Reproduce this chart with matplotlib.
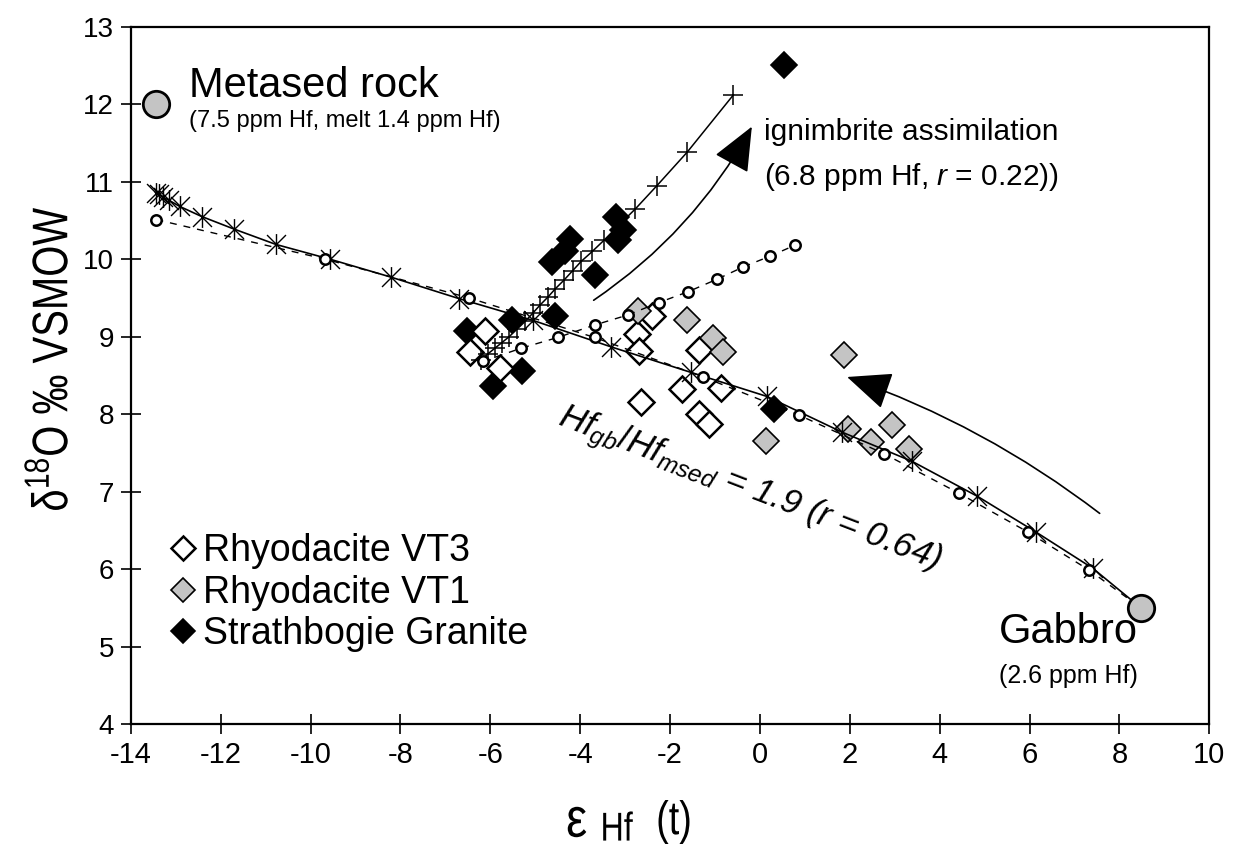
import matplotlib
matplotlib.use('Agg')
import matplotlib.pyplot as plt
import matplotlib.transforms as mtransforms
from matplotlib.path import Path
from matplotlib.textpath import TextPath
from matplotlib.patches import PathPatch
from matplotlib.font_manager import FontProperties

plt.rcParams['font.family'] = ['Liberation Sans', 'DejaVu Sans']
plt.rcParams['mathtext.fontset'] = 'custom'
plt.rcParams['mathtext.rm'] = 'Liberation Sans'
plt.rcParams['mathtext.it'] = 'Liberation Sans:italic'
plt.rcParams['axes.unicode_minus'] = False

# end members
metased_x, metased_y = -13.43, 12.0
gabbro_x, gabbro_y = 8.48, 5.5

# gabbro - metased melt mixing (solid, asterisks)
mix_x = [-13.45, -13.38, -13.28, -13.15, -12.91, -12.42, -11.71, -10.77, -9.57, -8.22,
         -6.69, -5.05, -3.32, -1.54, 0.15, 1.82, 3.39, 4.84, 6.14, 7.41, 8.48]
mix_y = [10.86, 10.84, 10.80, 10.76, 10.68, 10.55, 10.39, 10.19, 10.00, 9.77,
         9.49, 9.21, 8.87, 8.54, 8.23, 7.77, 7.39, 6.94, 6.48, 6.01, 5.50]

# second mixing curve (dashed, open circles)
mixb_x = [-13.43, -9.67, -6.47, -3.68, -1.26, 0.86, 2.76, 4.43, 5.96, 7.32, 8.48]
mixb_y = [10.51, 10.00, 9.50, 8.99, 8.48, 7.99, 7.49, 6.98, 6.48, 5.99, 5.50]

# upward dashed curve (open circles)
up_x = [-6.17, -5.32, -4.50, -3.68, -2.94, -2.25, -1.60, -0.96, -0.37, 0.23, 0.78]
up_y = [8.68, 8.85, 8.99, 9.15, 9.28, 9.44, 9.58, 9.74, 9.90, 10.04, 10.18]

# ignimbrite assimilation curve (solid, plus)
ign_x = [-6.20, -6.05, -5.90, -5.75, -5.58, -5.40, -5.22, -5.06, -4.89, -4.72, -4.55,
         -4.36, -4.17, -3.98, -3.73, -3.46, -3.12, -2.77, -2.29, -1.62, -0.59]
ign_y = [8.70, 8.78, 8.85, 8.92, 9.00, 9.10, 9.20, 9.30, 9.41, 9.51, 9.62,
         9.73, 9.85, 9.97, 10.10, 10.25, 10.45, 10.65, 10.95, 11.38, 12.12]

# samples
vt3_x = [-6.12, -6.45, -5.78, -2.40, -2.73, -2.69, -1.35, -1.73, -0.86, -2.64, -1.35, -1.13]
vt3_y = [9.07, 8.80, 8.59, 9.27, 9.03, 8.81, 8.83, 8.32, 8.34, 8.16, 8.00, 7.87]
vt1_x = [-2.71, -1.63, -1.04, -0.82, 0.13, 1.86, 1.97, 2.48, 2.94, 3.31]
vt1_y = [9.33, 9.22, 8.98, 8.80, 7.66, 8.77, 7.81, 7.64, 7.86, 7.55]
sg_x = [-3.20, -3.05, -3.15, -4.22, -4.33, -4.62, -3.68, -4.57, -5.52, -6.52, -5.30, -5.94, 0.32, 0.54]
sg_y = [10.55, 10.37, 10.25, 10.26, 10.10, 9.96, 9.79, 9.27, 9.21, 9.07, 8.56, 8.37, 8.07, 12.50]

xticks = list(range(-14, 11, 2))
yticks = list(range(4, 14))

star = Path([(-1, -1), (1, 1), (-1, 1), (1, -1), (0, -1.1), (0, 1.1)],
            [Path.MOVETO, Path.LINETO] * 3)

fig = plt.figure(figsize=(12.34, 8.49), dpi=100)
ax = fig.add_axes([0.106, 0.147, 0.874, 0.8216])


def path_text(s, cx, cy, size, squeeze=1.0, angle=0):
    # text drawn as a path, centred on (cx, cy) in pixels from bottom-left
    tp = TextPath((0, 0), s, size=size, prop=FontProperties(family='Liberation Sans'))
    bb = tp.get_extents()
    k = fig.dpi / 72
    tr = (mtransforms.Affine2D()
          .translate(-(bb.x0 + bb.x1) / 2, -(bb.y0 + bb.y1) / 2)
          .scale(k * squeeze, k)
          .rotate_deg(angle)
          .translate(cx, cy))
    fig.add_artist(PathPatch(tp, transform=tr, fc='k', ec='none'))


# sample diamonds
h_sg, = ax.plot(sg_x, sg_y, 'D', ms=13.5, mfc='k', mec='k', mew=1.2, zorder=2, label='Strathbogie Granite')
h_vt3, = ax.plot(vt3_x, vt3_y, 'D', ms=13.5, mfc='white', mec='k', mew=1.8, zorder=2.1, label='Rhyodacite VT3')
h_vt1, = ax.plot(vt1_x, vt1_y, 'D', ms=13.5, mfc='#c4c4c4', mec='k', mew=1.2, zorder=2.2, label='Rhyodacite VT1')

# model curves
ax.plot(mix_x, mix_y, '-', color='k', lw=1.2, marker=star, ms=15, mew=1.0,
        markevery=list(range(len(mix_x) - 1)), zorder=3)
ax.plot(mixb_x, mixb_y, color='k', lw=1.0, ls=(0, (5, 5)), zorder=3)
ax.plot(mixb_x[:-1], mixb_y[:-1], 'o', ms=7.5, mfc='white', mec='k', mew=1.8, zorder=3.1)
ax.plot(up_x, up_y, color='k', lw=1.0, ls=(0, (5, 5)), zorder=3)
ax.plot(up_x, up_y, 'o', ms=7.5, mfc='white', mec='k', mew=1.8, zorder=3.1)
ax.plot(ign_x, ign_y, '-', color='k', lw=1.1, marker='+', ms=14, mew=1.1, zorder=3)

# end members
ax.plot([metased_x], [metased_y], 'o', ms=19, mfc='#c4c4c4', mec='k', mew=2, zorder=4)
ax.plot([gabbro_x], [gabbro_y], 'o', ms=19, mfc='#c4c4c4', mec='k', mew=2, zorder=4)

# arrows
ax.annotate('', xy=(-0.18, 11.71), xytext=(-3.70, 9.47),
            arrowprops=dict(arrowstyle='-|>,head_length=1.4,head_width=0.6', color='k', lw=1.2,
                            mutation_scale=20, shrinkA=0, shrinkB=0,
                            connectionstyle='arc3,rad=0.12'))
ax.annotate('', xy=(1.94, 8.48), xytext=(7.56, 6.72),
            arrowprops=dict(arrowstyle='-|>,head_length=1.4,head_width=0.6', color='k', lw=1.2,
                            mutation_scale=20, shrinkA=0, shrinkB=0,
                            connectionstyle='arc3,rad=0.08'))

# annotations
ax.text(-12.70, 12.09, 'Metased rock', fontsize=30, ha='left', va='baseline')
ax.text(-12.70, 11.71, '(7.5 ppm Hf, melt 1.4 ppm Hf)', fontsize=17, ha='left', va='baseline')
ax.text(0.10, 11.54, 'ignimbrite assimilation', fontsize=21.5, ha='left', va='baseline')
ax.text(0.10, 10.96, r'(6.8 ppm Hf, $r$ = 0.22))', fontsize=21.5, ha='left', va='baseline')
ax.text(5.32, 5.05, 'Gabbro', fontsize=30, ha='left', va='baseline')
ax.text(5.32, 4.53, '(2.6 ppm Hf)', fontsize=18, ha='left', va='baseline')
ax.text(-0.23, 7.02, r'$Hf_{gb}/Hf_{msed}$ = 1.9 ($r$ = 0.64)', fontsize=25, style='italic',
        rotation=-21, rotation_mode='anchor', ha='center', va='center')

leg = ax.legend(handles=[h_vt3, h_vt1, h_sg], loc='upper left', bbox_to_anchor=(0.036, 0.274),
                frameon=False, fontsize=27, handletextpad=0.2, labelspacing=0.15,
                markerscale=0.9, borderpad=0, handlelength=0.7, borderaxespad=0)

ax.set_xlim(-14, 10)
ax.set_ylim(4, 13)
ax.set_xticks(xticks)
ax.set_yticks(yticks)
ax.tick_params(direction='inout', length=14, width=1.2, pad=5)
ax.tick_params(axis='y', labelsize=20)
ax.tick_params(axis='x', labelsize=21)
for s in ax.spines.values():
    s.set_linewidth(1.6)

# axis titles in a condensed look
H = 849
path_text(r'δ$^{\mathrm{18}}$O ‰ VSMOW', 46, H - 359, 36, squeeze=0.8, angle=90)
path_text('ε', 577, H - 822, 40, squeeze=0.85)
path_text('Hf', 618, H - 826, 29, squeeze=0.8)
path_text('(t)', 674, H - 822, 34, squeeze=0.8)

fig.savefig('out.png', dpi=100)
